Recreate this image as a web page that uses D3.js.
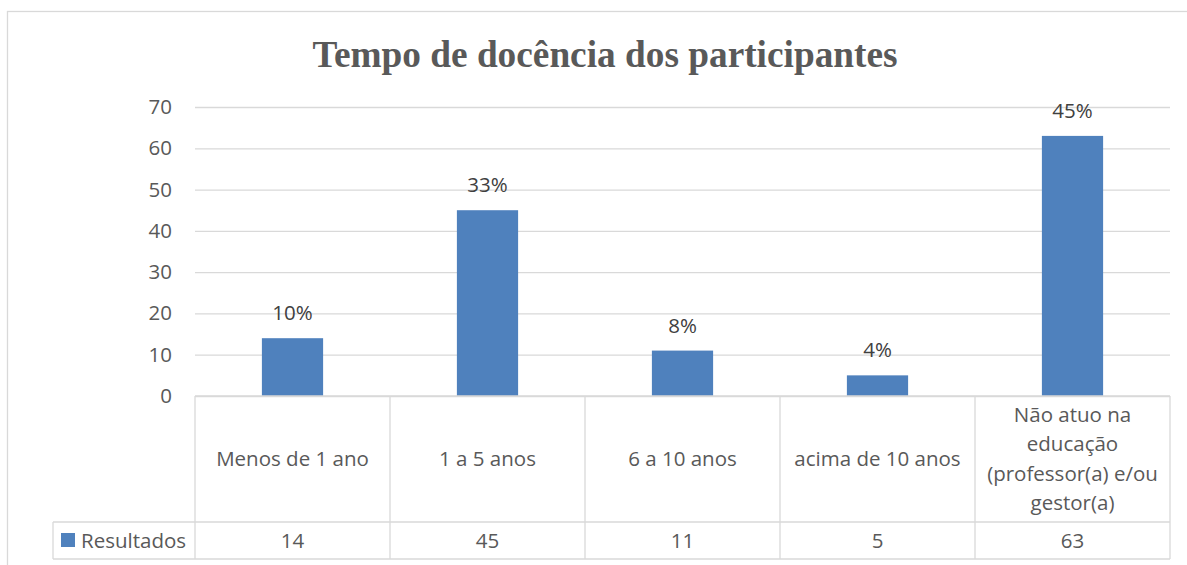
<!DOCTYPE html>
<html>
<head>
<meta charset="utf-8">
<script src="https://cdn.jsdelivr.net/npm/d3@7"></script>
<style>
  body { margin: 0; background: #fff; }
  text { font-family: "Open Sans", "Noto Sans", sans-serif; fill: #595959; }
</style>
</head>
<body>
<div id="chart"></div>
<script>
var categories = ["Menos de 1 ano", "1 a 5 anos", "6 a 10 anos", "acima de 10 anos", "Não atuo na educação (professor(a) e/ou gestor(a)"];
var categoryLines = [["Menos de 1 ano"], ["1 a 5 anos"], ["6 a 10 anos"], ["acima de 10 anos"], ["Não atuo na", "educação", "(professor(a) e/ou", "gestor(a)"]];
var values = [14, 45, 11, 5, 63];
var pctLabels = ["10%", "33%", "8%", "4%", "45%"];
var yTicks = [0, 10, 20, 30, 40, 50, 60, 70];
var seriesName = "Resultados";
var title = "Tempo de docência dos participantes";

var W = 1187, H = 565;
var plotLeft = 195, plotRight = 1170, plotTop = 107, zeroY = 396;
var headerBottom = 522, tableBottom = 559, legendLeft = 53;
var grid = "#d9d9d9", barColor = "#4f81bd";
var fs = "20.5px";

var svg = d3.select("#chart")
  .append("svg")
  .attr("width", W)
  .attr("height", H);

// outer frame
svg.append("rect")
  .attr("x", 7.5).attr("y", 11.5)
  .attr("width", 1300).attr("height", 700)
  .attr("fill", "none").attr("stroke", grid).attr("stroke-width", 1.3);

svg.append("text")
  .attr("x", 605).attr("y", 67)
  .attr("text-anchor", "middle")
  .style("font-family", "'Liberation Serif', 'Times New Roman', serif")
  .style("font-weight", "bold")
  .style("font-size", "37.3px")
  .text(title);

var x = d3.scaleBand()
  .domain(categories)
  .range([plotLeft, plotRight])
  .paddingInner(0.686)
  .paddingOuter(0.343);

var xCol = d3.scaleBand()
  .domain(categories)
  .range([plotLeft, plotRight]);

var y = d3.scaleLinear()
  .domain([0, 70])
  .range([zeroY, plotTop]);

// gridlines + y labels
var yAxis = svg.append("g")
  .attr("transform", "translate(" + plotLeft + ",0)")
  .call(d3.axisLeft(y).tickValues(yTicks).tickSize(-(plotRight - plotLeft)).tickPadding(23));
yAxis.select(".domain").remove();
yAxis.selectAll(".tick line").attr("stroke", grid).attr("stroke-width", 1.3);
yAxis.selectAll(".tick text")
  .style("font-size", fs)
  .attr("fill", "#595959");

// bars
svg.selectAll(".bar")
  .data(values)
  .enter()
  .append("rect")
  .attr("class", "bar")
  .attr("x", function(d, i){ return x(categories[i]) })
  .attr("width", x.bandwidth())
  .attr("y", function(d){ return y(d) })
  .attr("height", function(d){ return zeroY - y(d) })
  .attr("fill", barColor);

// data labels
svg.selectAll(".lbl")
  .data(values)
  .enter()
  .append("text")
  .attr("class", "lbl")
  .attr("x", function(d, i){ return x(categories[i]) + x.bandwidth() / 2 })
  .attr("y", function(d){ return y(d) - 18 })
  .attr("text-anchor", "middle")
  .style("font-size", fs)
  .style("fill", "#404040")
  .text(function(d, i){ return pctLabels[i] });

// data table
var tbl = svg.append("g")
  .attr("fill", "none")
  .attr("stroke", grid)
  .attr("stroke-width", 1.3);
tbl.append("line").attr("x1", plotLeft).attr("x2", plotRight).attr("y1", zeroY).attr("y2", zeroY);
tbl.append("line").attr("x1", legendLeft).attr("x2", plotRight).attr("y1", headerBottom).attr("y2", headerBottom);
tbl.append("line").attr("x1", legendLeft).attr("x2", plotRight).attr("y1", tableBottom).attr("y2", tableBottom);
tbl.append("line").attr("x1", legendLeft).attr("x2", legendLeft).attr("y1", headerBottom).attr("y2", tableBottom);
tbl.selectAll(".vl")
  .data(categories.concat(["end"]))
  .enter()
  .append("line")
  .attr("x1", function(d, i){ return plotLeft + i * xCol.bandwidth() })
  .attr("x2", function(d, i){ return plotLeft + i * xCol.bandwidth() })
  .attr("y1", zeroY)
  .attr("y2", tableBottom);

// category labels
var lineH = 29.5;
var catG = svg.selectAll(".cat")
  .data(categoryLines)
  .enter()
  .append("text")
  .attr("class", "cat")
  .attr("text-anchor", "middle")
  .style("font-size", fs);
catG.each(function(lines, i){
  var cx = xCol(categories[i]) + xCol.bandwidth() / 2;
  var cy = (zeroY + headerBottom) / 2;
  var start = cy - (lines.length - 1) * lineH / 2;
  d3.select(this).selectAll("tspan")
    .data(lines)
    .enter()
    .append("tspan")
    .attr("x", cx)
    .attr("y", function(d, j){ return start + j * lineH })
    .attr("dy", "0.35em")
    .text(function(d){ return d });
});

// values row
svg.selectAll(".val")
  .data(values)
  .enter()
  .append("text")
  .attr("class", "val")
  .attr("x", function(d, i){ return xCol(categories[i]) + xCol.bandwidth() / 2 })
  .attr("y", (headerBottom + tableBottom) / 2)
  .attr("dy", "0.35em")
  .attr("text-anchor", "middle")
  .style("font-size", fs)
  .text(function(d){ return d });

// legend key
svg.append("rect")
  .attr("x", 61).attr("y", 533)
  .attr("width", 14).attr("height", 14)
  .attr("fill", barColor);
svg.append("text")
  .attr("x", 81).attr("y", (headerBottom + tableBottom) / 2)
  .attr("dy", "0.35em")
  .style("font-size", fs)
  .text(seriesName);
</script>
</body>
</html>
